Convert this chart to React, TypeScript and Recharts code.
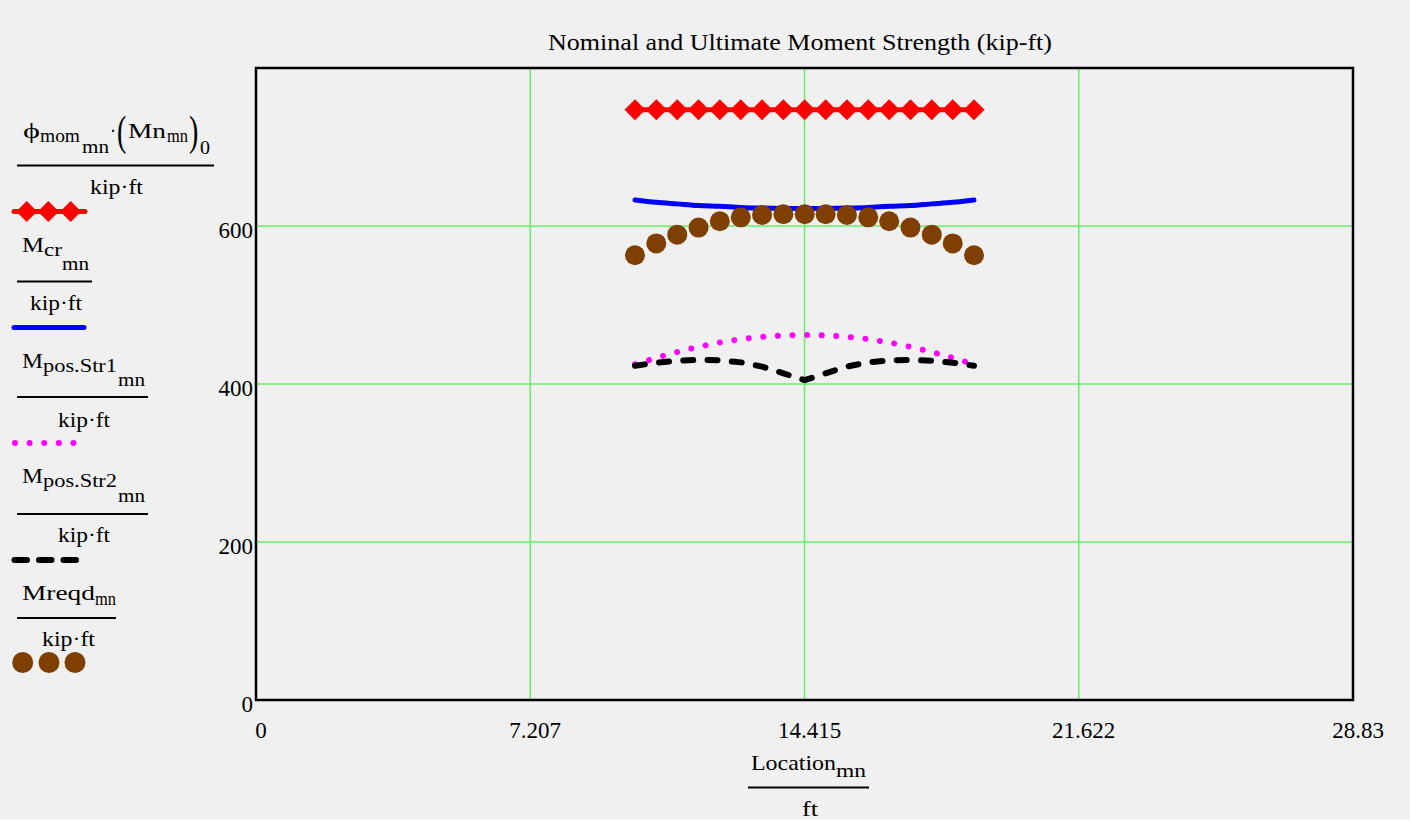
import React from "react";
import {
  ComposedChart,
  Line,
  XAxis,
  YAxis,
  CartesianGrid,
  ReferenceArea,
} from "recharts";

const locations = [9.96, 10.52, 11.07, 11.63, 12.19, 12.74, 13.3, 13.86, 14.42, 14.97, 15.53, 16.09, 16.64, 17.2, 17.76, 18.31, 18.87];
const phiMn = [747, 747, 747, 747, 747, 747, 747, 747, 747, 747, 747, 747, 747, 747, 747, 747, 747];
const mcr = [633, 630, 628, 626, 625, 623.5, 622.7, 622.2, 622, 622.2, 622.7, 623.5, 625, 626, 628, 630, 633];
const mposStr1 = [425, 433, 440.5, 447, 452.5, 456.7, 459.6, 461.4, 462, 461.4, 459.6, 456.7, 452.5, 447, 440.5, 433, 425];
const mposStr2 = [423, 427, 429.5, 430.5, 430, 427.4, 422, 413.5, 405, 413.5, 422, 427.4, 430, 430.5, 429.5, 427, 423];
const mreqd = [563, 578, 589, 598, 606, 611, 614, 615, 615, 615, 614, 611, 606, 598, 589, 578, 563];

const xTicks = [0, 7.207, 14.415, 21.622, 28.83];
const yTicks = [0, 200, 400, 600];
const xDomain = [0, 28.83];
const yDomain = [0, 800];

const data = locations.map((x, i) => ({
  x,
  phiMn: phiMn[i],
  mcr: mcr[i],
  mposStr1: mposStr1[i],
  mposStr2: mposStr2[i],
  mreqd: mreqd[i],
}));

const FONT = "'Liberation Serif', 'Times New Roman', serif";
const GRID = "#66ee66";

const XTick = (props: any) => {
  const { x, y, payload } = props;
  return (
    <text x={x + 5} y={y + 30} textAnchor="middle" fontFamily={FONT} fontSize={23} fill="#000">
      {payload.value}
    </text>
  );
};

const YTick = (props: any) => {
  const { x, y, payload } = props;
  return (
    <text x={x} y={y + 12} textAnchor="end" fontFamily={FONT} fontSize={23} fill="#000">
      {payload.value}
    </text>
  );
};

const Diamond = (props: any) => {
  const { cx, cy, index } = props;
  if (cx == null || cy == null) return <g key={index} />;
  return (
    <path
      key={index}
      d={`M${cx},${cy - 10.5} L${cx + 10.5},${cy} L${cx},${cy + 10.5} L${cx - 10.5},${cy} Z`}
      fill="#ff0000"
    />
  );
};

const Ball = (props: any) => {
  const { cx, cy, index } = props;
  if (cx == null || cy == null) return <g key={index} />;
  return <circle key={index} cx={cx} cy={cy} r={10} fill="#7f3f00" />;
};

const MAIN = 22;
const SUB = 19;

// text piece: [text, x0, x1, baseline, fontSize]
type Piece = [string, number, number, number, number];

const legendPieces: Piece[] = [
  ["ϕ", 23, 40, 138, MAIN],
  ["mom", 40, 80, 142, SUB],
  ["mn", 82, 109, 153, SUB],
  ["·", 110, 116, 138, MAIN],
  ["Mn", 128, 166, 138, MAIN],
  ["mn", 167, 188, 142, SUB],
  ["0", 200, 210, 154, SUB],
  ["kip·ft", 90, 143, 194, MAIN],

  ["M", 22, 44, 252, MAIN],
  ["cr", 44, 62, 256, SUB],
  ["mn", 62, 89, 270, SUB],
  ["kip·ft", 30, 82, 310, MAIN],

  ["M", 22, 43, 368, MAIN],
  ["pos.Str1", 43, 117, 372, SUB],
  ["mn", 118, 145, 386, SUB],
  ["kip·ft", 58, 110, 427, MAIN],

  ["M", 22, 43, 483, MAIN],
  ["pos.Str2", 43, 117, 487, SUB],
  ["mn", 118, 145, 502, SUB],
  ["kip·ft", 58, 110, 542, MAIN],

  ["Mreqd", 22, 95, 600, MAIN],
  ["mn", 95, 116, 605, SUB],
  ["kip·ft", 42, 95, 646, MAIN],

  ["Location", 751, 836, 770, MAIN],
  ["mn", 836, 866, 777, SUB],
  ["ft", 802, 818, 816, MAIN],

  ["Nominal and Ultimate Moment Strength (kip-ft)", 548, 1052, 50, 24],
];

// big stretched parentheses: [text, x, baseline]
const parens: [string, number, number][] = [
  ["(", 117, 145],
  [")", 189, 145],
];

function LegendAndLabels() {
  return (
    <svg
      width={1413}
      height={823}
      style={{ position: "absolute", left: 0, top: 0, pointerEvents: "none" }}
      fontFamily={FONT}
    >
      {legendPieces.map(([t, x0, x1, y, fs], i) => (
        <text
          key={i}
          x={x0}
          y={y}
          fontSize={fs}
          fill="#000"
          textLength={x1 - x0}
          lengthAdjust="spacingAndGlyphs"
        >
          {t}
        </text>
      ))}
      {parens.map(([t, x, y], i) => (
        <text
          key={"p" + i}
          x={0}
          y={0}
          fontSize={28}
          fill="#000"
          transform={`translate(${x},${y}) scale(1,1.5)`}
        >
          {t}
        </text>
      ))}

      {/* fraction bars */}
      <line x1={17} x2={214} y1={165.5} y2={165.5} stroke="#000" strokeWidth={2} />
      <line x1={17} x2={92} y1={281.5} y2={281.5} stroke="#000" strokeWidth={2} />
      <line x1={17} x2={148} y1={397} y2={397} stroke="#000" strokeWidth={2} />
      <line x1={17} x2={148} y1={514} y2={514} stroke="#000" strokeWidth={2} />
      <line x1={17} x2={116} y1={618} y2={618} stroke="#000" strokeWidth={2} />
      <line x1={748} x2={869} y1={787.5} y2={787.5} stroke="#000" strokeWidth={2} />

      {/* legend symbols */}
      <line x1={14} x2={85} y1={211.5} y2={211.5} stroke="#ff0000" strokeWidth={5} strokeLinecap="round" />
      {[26.7, 48.3, 70.7].map((c, i) => (
        <path key={i} d={`M${c},${211.5 - 10.5} L${c + 10.5},211.5 L${c},${211.5 + 10.5} L${c - 10.5},211.5 Z`} fill="#ff0000" />
      ))}
      <line x1={14} x2={84} y1={327.5} y2={327.5} stroke="#0000ff" strokeWidth={5} strokeLinecap="round" />
      <line x1={15} x2={75} y1={443} y2={443} stroke="#ff00ff" strokeWidth={6} strokeLinecap="round" strokeDasharray="0.01 14.6" />
      <line x1={14.5} x2={77} y1={560} y2={560} stroke="#000" strokeWidth={6} strokeLinecap="round" strokeDasharray="12.5 12" />
      {[22.7, 49, 75].map((c, i) => (
        <circle key={i} cx={c} cy={662.5} r={10.5} fill="#7f3f00" />
      ))}
    </svg>
  );
}

export default function App() {
  return (
    <div style={{ position: "fixed", left: 0, top: 0, width: 1413, height: 823, background: "#ffffff" }}>
      <div style={{ position: "absolute", left: 0, top: 0, width: 1410, height: 820, background: "#f0f0f0" }} />
      <div style={{ position: "absolute", left: 0, top: 0 }}>
        <ComposedChart
          width={1413}
          height={823}
          data={data}
          margin={{ top: 68, right: 60, bottom: 83, left: 196 }}
        >
          <CartesianGrid stroke={GRID} strokeWidth={1.5} />
          <XAxis
            dataKey="x"
            type="number"
            domain={xDomain}
            ticks={xTicks}
            axisLine={false}
            tickLine={false}
            height={40}
            tick={<XTick />}
            allowDataOverflow
            interval={0}
          />
          <YAxis
            type="number"
            domain={yDomain}
            ticks={yTicks}
            axisLine={false}
            tickLine={false}
            tickSize={0}
            tickMargin={3}
            width={60}
            tick={<YTick />}
            allowDataOverflow
            interval={0}
          />
          <ReferenceArea x1={0} x2={28.83} y1={0} y2={800} fill="none" stroke="#000" strokeWidth={2.5} />
          <Line dataKey="phiMn" type="linear" stroke="#ff0000" strokeWidth={5} dot={<Diamond />} isAnimationActive={false} />
          <Line dataKey="mcr" type="monotone" stroke="#0000ff" strokeWidth={5} strokeLinecap="round" dot={false} isAnimationActive={false} />
          <Line dataKey="mposStr1" type="monotone" stroke="#ff00ff" strokeWidth={6} strokeLinecap="round" strokeDasharray="0.01 14.6" dot={false} isAnimationActive={false} />
          <Line dataKey="mposStr2" type="linear" stroke="#000000" strokeWidth={6} strokeLinecap="round" strokeDasharray="10 14.3" dot={false} isAnimationActive={false} />
          <Line dataKey="mreqd" type="linear" stroke="none" dot={<Ball />} isAnimationActive={false} />
        </ComposedChart>
      </div>
      <LegendAndLabels />
    </div>
  );
}
